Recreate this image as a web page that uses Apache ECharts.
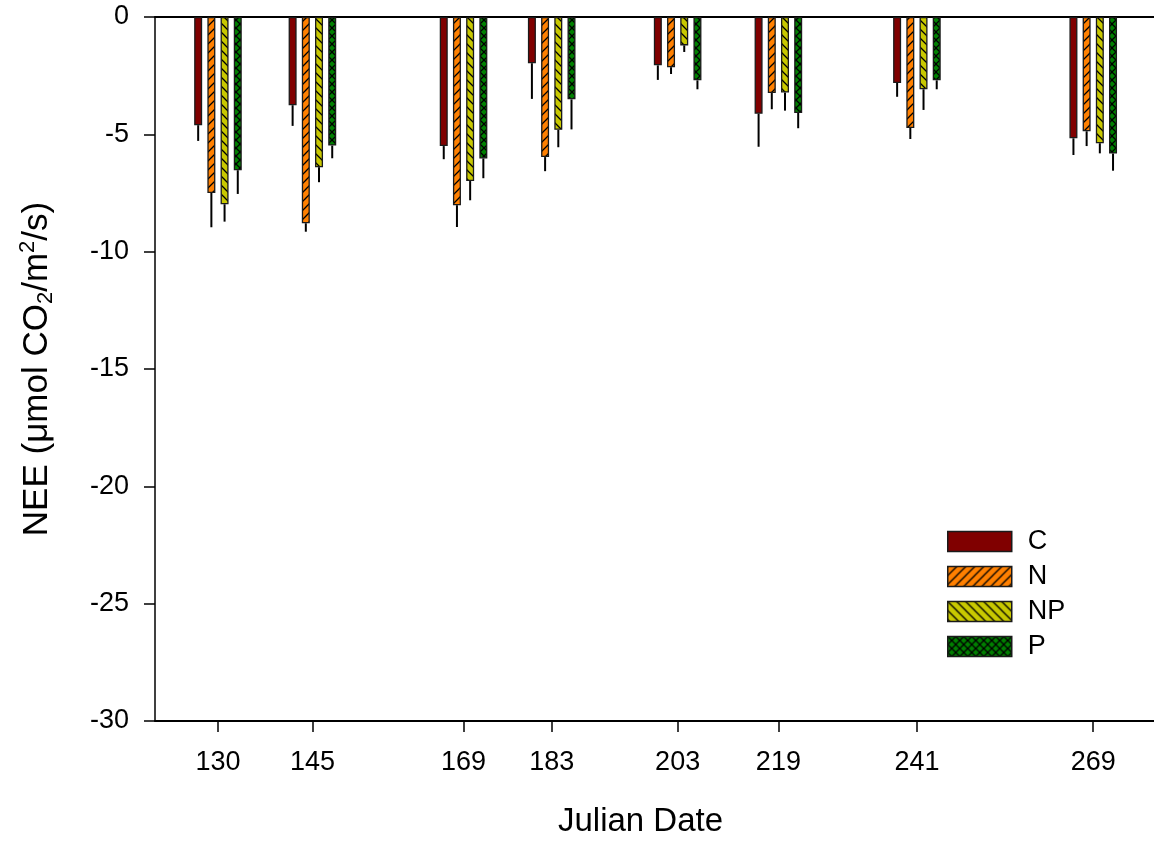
<!DOCTYPE html>
<html>
<head>
<meta charset="utf-8">
<script src="https://cdn.jsdelivr.net/npm/echarts@6/dist/echarts.min.js"></script>
<style>
html,body{margin:0;padding:0;background:#fff;}
#chart{width:1154px;height:843px;}
</style>
</head>
<body>
<div id="chart"></div>
<script>
// ---- data ----
const dates = [130, 145, 169, 183, 203, 219, 241, 269];
const xTicks = [130, 145, 169, 183, 203, 219, 241, 269];
const yTicks = [0, -5, -10, -15, -20, -25, -30];
const seriesNames = ['C', 'N', 'NP', 'P'];
const valC  = [-4.61, -3.76, -5.50, -1.97, -2.06, -4.12, -2.81, -5.17];
const errC  = [0.67, 0.88, 0.56, 1.52, 0.62, 1.41, 0.59, 0.71];
const valN  = [-7.50, -8.79, -8.02, -5.97, -2.14, -3.24, -4.73, -4.87];
const errN  = [1.46, 0.36, 0.93, 0.60, 0.29, 0.69, 0.47, 0.63];
const valNP = [-7.98, -6.40, -6.99, -4.81, -1.21, -3.22, -3.08, -5.38];
const errNP = [0.74, 0.64, 0.82, 0.74, 0.28, 0.77, 0.88, 0.43];
const valP  = [-6.53, -5.48, -6.03, -3.51, -2.70, -4.09, -2.70, -5.82];
const errP  = [1.01, 0.54, 0.84, 1.28, 0.38, 0.65, 0.38, 0.73];

const values = [valC, valN, valNP, valP];
const errors = [errC, errN, errNP, errP];

// ---- styles ----
const FONT = '"Liberation Sans", Arial, Helvetica, sans-serif';
const BAR_W = 8;
const BAR_GAP = 0.65;

function makePattern(bg, kind, size) {
  const c = document.createElement('canvas');
  c.width = size; c.height = size;
  const g = c.getContext('2d');
  g.fillStyle = bg; g.fillRect(0, 0, size, size);
  if (kind) {
    g.strokeStyle = '#000'; g.lineWidth = 1.3;
    const s = size;
    const fwd = () => { // "/"
      g.beginPath();
      g.moveTo(-1, s + 1); g.lineTo(s + 1, -1);
      g.moveTo(-1, 1); g.lineTo(1, -1);
      g.moveTo(s - 1, s + 1); g.lineTo(s + 1, s - 1);
      g.stroke();
    };
    const back = () => { // "\"
      g.beginPath();
      g.moveTo(-1, -1); g.lineTo(s + 1, s + 1);
      g.moveTo(s - 1, -1); g.lineTo(s + 1, 1);
      g.moveTo(-1, s - 1); g.lineTo(1, s + 1);
      g.stroke();
    };
    if (kind === 'fwd') fwd();
    if (kind === 'back') back();
    if (kind === 'cross') { fwd(); back(); }
  }
  return { image: c, repeat: 'repeat' };
}

const fills = [
  '#800000',
  makePattern('#ff8000', 'fwd', 9),
  makePattern('#c8c800', 'back', 9),
  makePattern('#008000', 'cross', 8)
];

const chart = echarts.init(document.getElementById('chart'), null, { renderer: 'canvas' });

const series = [];
seriesNames.forEach((name, i) => {
  series.push({
    name: name,
    type: 'bar',
    xAxisIndex: 0,
    yAxisIndex: 0,
    barWidth: BAR_W,
    barGap: (BAR_GAP * 100) + '%',
    itemStyle: { color: fills[i], borderColor: '#1a1a1a', borderWidth: 1.3 },
    emphasis: { disabled: true },
    data: dates.map((d, k) => [d, values[i][k]]),
    z: 2
  });
});
seriesNames.forEach((name, i) => {
  const pitch = BAR_W * (1 + BAR_GAP);
  const off = (i - (seriesNames.length - 1) / 2) * pitch;
  series.push({
    name: name + ' err',
    type: 'custom',
    xAxisIndex: 0,
    yAxisIndex: 0,
    silent: true,
    z: 3,
    data: dates.map((d, k) => [d, values[i][k], errors[i][k]]),
    renderItem: function (params, api) {
      const x = api.value(0), v = api.value(1), e = api.value(2);
      const p1 = api.coord([x, v]);
      const p2 = api.coord([x, v - e]);
      return {
        type: 'line',
        shape: { x1: p1[0] + off, y1: p1[1], x2: p2[0] + off, y2: p2[1] },
        style: { stroke: '#000', lineWidth: 2 }
      };
    }
  });
});

const option = {
  animation: false,
  backgroundColor: '#ffffff',
  grid: { left: 155, top: 17, right: 0, height: 704, containLabel: false, outerBoundsMode: 'none' },
  legend: {
    data: seriesNames,
    orient: 'vertical',
    left: 947, top: 528,
    itemWidth: 64, itemHeight: 20, itemGap: 8,
    icon: 'rect',
    padding: 0,
    selectedMode: false,
    itemStyle: { borderColor: '#1a1a1a', borderWidth: 1.5 },
    textStyle: { fontFamily: FONT, fontSize: 27, lineHeight: 20, color: '#000', padding: [0, 0, 0, 11] }
  },
  xAxis: [{
    type: 'value',
    min: 120, max: 278.65,
    position: 'bottom',
    name: 'Julian Date',
    nameLocation: 'middle',
    nameGap: 84,
    nameTextStyle: { fontFamily: FONT, fontSize: 33, color: '#000', padding: [0, 28, 0, 0] },
    axisLine: { show: true, onZero: false, lineStyle: { color: '#000', width: 2 } },
    axisTick: { show: true, customValues: xTicks, length: 11, inside: false, lineStyle: { color: '#000', width: 1.5 } },
    axisLabel: { customValues: xTicks, margin: 28, fontFamily: FONT, fontSize: 27, color: '#000' },
    splitLine: { show: false }
  }, {
    type: 'value',
    min: 120, max: 278.65,
    position: 'top',
    axisLine: { show: true, onZero: false, lineStyle: { color: '#000', width: 2 } },
    axisTick: { show: false },
    axisLabel: { show: false },
    splitLine: { show: false }
  }],
  yAxis: {
    type: 'value',
    min: -30, max: 0, interval: 5,
    name: 'NEE (μmol CO{sub|2}/m{sup|2}/s)',
    nameLocation: 'middle',
    nameGap: 118,
    nameTextStyle: {
      fontFamily: FONT, fontSize: 35, color: '#000', lineHeight: 40, verticalAlign: 'middle',
      rich: {
        sub: { fontFamily: FONT, fontSize: 22, color: '#000', lineHeight: 20, verticalAlign: 'bottom' },
        sup: { fontFamily: FONT, fontSize: 22, color: '#000', lineHeight: 20, verticalAlign: 'top' }
      }
    },
    axisLine: { show: true, onZero: false, lineStyle: { color: '#000', width: 1.5 } },
    axisTick: { show: true, length: 11, inside: false, lineStyle: { color: '#000', width: 1.5 } },
    axisLabel: { margin: 26, fontFamily: FONT, fontSize: 27, color: '#000', formatter: v => String(v) },
    splitLine: { show: false }
  },
  series: series
};
chart.setOption(option);
</script>
</body>
</html>
